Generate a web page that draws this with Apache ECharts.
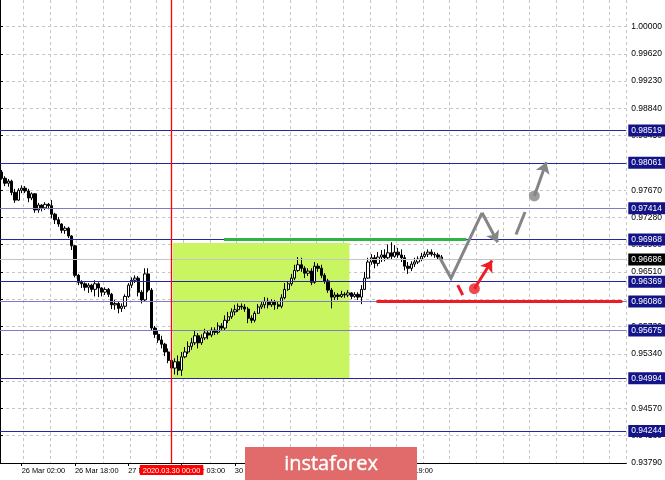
<!DOCTYPE html>
<html><head><meta charset="utf-8">
<script src="https://cdn.jsdelivr.net/npm/echarts@6/dist/echarts.min.js"></script>
<style>html,body{margin:0;padding:0;background:#fff}#c{width:665px;height:480px}</style>
</head><body><div id="c"></div>
<script>
// ---- candles (hourly), first bar at axisStartTime ----
const opens = [.9793,.9784,.9777,.9780,.9764,.9753,.9767,.9770,.9766,.9756,
.9762,.9739,.9746,.9742,.9747,.9745,.9733,.9725,.9719,.9710,
.9713,.9702,.9688,.9646,.9636,.9634,.9629,.9632,.9626,.9634,
.9628,.9622,.9626,.9619,.9604,.9606,.9599,.9602,.9616,.9632,
.9639,.9642,.9622,.9611,.9648,.9625,.9571,.9562,.9554,.9548,
.9537,.9525,.9514,.9523,.9511,.9530,.9537,.9545,.9550,.9560,
.9550,.9557,.9564,.9561,.9568,.9565,.9574,.9571,.9582,.9587,
.9594,.9597,.9602,.9601,.9598,.9585,.9582,.9592,.9601,.9604,
.9609,.9604,.9608,.9604,.9602,.9614,.9626,.9634,.9642,.9653,
.9661,.9656,.9649,.9652,.9636,.9659,.9656,.9646,.9638,.9625,
.9615,.9618,.9616,.9619,.9618,.9621,.9616,.9619,.9615,.9626,
.9642,.9665,.9671,.9663,.9672,.9675,.9671,.9678,.9673,.9679,
.9675,.9671,.9659,.9656,.9662,.9665,.9669,.9673,.9676,.9679,
.9676,.9675,.9672];
const closes = [.9784,.9777,.9780,.9764,.9753,.9767,.9770,.9766,.9756,.9762,
.9739,.9746,.9742,.9747,.9745,.9733,.9725,.9719,.9710,.9713,
.9702,.9688,.9646,.9636,.9634,.9629,.9632,.9626,.9634,.9628,
.9622,.9626,.9619,.9604,.9606,.9599,.9602,.9616,.9632,.9639,
.9642,.9622,.9611,.9648,.9625,.9571,.9562,.9554,.9548,.9537,
.9525,.9514,.9523,.9511,.9530,.9537,.9545,.9550,.9560,.9550,
.9557,.9564,.9561,.9568,.9565,.9574,.9571,.9582,.9587,.9594,
.9597,.9602,.9601,.9598,.9585,.9582,.9592,.9601,.9604,.9609,
.9604,.9608,.9604,.9602,.9614,.9626,.9634,.9642,.9653,.9661,
.9656,.9649,.9652,.9636,.9659,.9656,.9646,.9638,.9625,.9615,
.9618,.9616,.9619,.9618,.9621,.9616,.9619,.9615,.9626,.9642,
.9665,.9671,.9663,.9672,.9675,.9671,.9678,.9673,.9679,.9675,
.9671,.9659,.9656,.9662,.9665,.9669,.9673,.9676,.9679,.9676,
.9675,.9672,.96686];
const lows = [.9782,.9773,.9772,.9760,.9749,.9752,.9763,.9763,.9750,.9753,
.9735,.9735,.9737,.9739,.9740,.9727,.9719,.9715,.9706,.9705,
.9699,.9682,.9643,.9632,.9628,.9624,.9621,.9622,.9616,.9615,
.9616,.9618,.9615,.9598,.9597,.9592,.9594,.9598,.9614,.9628,
.9635,.9616,.9606,.9609,.9622,.9567,.9557,.9550,.9542,.9531,
.9521,.9508,.9505,.9504,.9503,.9528,.9534,.9540,.9547,.9542,
.9547,.9554,.9555,.9558,.9561,.9562,.9567,.9568,.9578,.9584,
.9589,.9594,.9597,.9594,.9578,.9578,.9579,.9591,.9598,.9599,
.9599,.9601,.9597,.9598,.9599,.9612,.9624,.9631,.9639,.9651,
.9651,.9642,.9645,.9632,.9634,.9651,.9642,.9634,.9621,.9599,
.9611,.9611,.9614,.9614,.9615,.9612,.9614,.9611,.9605,.9625,
.9641,.9661,.9656,.9659,.9665,.9666,.9668,.9669,.9671,.9671,
.9665,.9653,.9648,.9652,.9658,.9662,.9666,.9671,.9672,.9673,
.9671,.9669,.9665];
const highs = [.9796,.9787,.9783,.9782,.9769,.9770,.9774,.9773,.9769,.9764,
.9763,.9749,.9747,.9750,.9749,.9753,.9735,.9729,.9720,.9716,
.9715,.9703,.9689,.9648,.9639,.9636,.9635,.9634,.9639,.9636,
.9629,.9629,.9628,.9621,.9611,.9609,.9606,.9619,.9635,.9643,
.9646,.9645,.9625,.9656,.9656,.9628,.9574,.9567,.9560,.9550,
.9542,.9531,.9528,.9532,.9537,.9544,.9552,.9557,.9567,.9564,
.9562,.9570,.9568,.9572,.9572,.9579,.9578,.9589,.9594,.9599,
.9604,.9606,.9606,.9605,.9601,.9589,.9595,.9605,.9608,.9615,
.9614,.9612,.9611,.9608,.9619,.9635,.9638,.9648,.9661,.9672,
.9671,.9659,.9656,.9656,.9665,.9663,.9661,.9649,.9641,.9628,
.9622,.9621,.9624,.9622,.9625,.9622,.9622,.9622,.9632,.9651,
.9671,.9676,.9675,.9679,.9682,.9683,.9690,.9693,.9689,.9685,
.9683,.9675,.9665,.9666,.9671,.9673,.9678,.9680,.9683,.9683,
.9679,.9678,.9675];

// ---- horizontal levels ----
const levels = [0.98519, 0.98061, 0.97414, 0.96968, 0.96369, 0.96086, 0.95675, 0.94994, 0.94244];
const levelStrong = [true, true, false, true, true, false, false, true, true];
const lastPrice = 0.96686;

// ---- price axis ticks ----
const tickValues = [0.93790,0.94178,0.94566,0.94954,0.95343,0.95731,0.96119,0.96507,0.96895,0.97283,0.97671,0.98059,0.98448,0.98836,0.99224,0.99612,1.00000];
const tickLabels = ['0.93790','0.94180','0.94570','0.94960','0.95340','0.95730','0.96120','0.96510','0.96900','0.97280','0.97670','0.98060','0.98450','0.98840','0.99230','0.99620','1.00000'];
const yMin = 0.93790, yMax = 1.00377;

// ---- time axis ----
const axisStartTime = Date.UTC(2020, 2, 25, 20);
const barCount = 188;
const labelEvery = 16, labelOffset = 6, gridEvery = 8, gridOffset = 7;
const cursorTime = '30 Mar 00:00';
const cursorLabel = '2020.03.30 00:00';

// ---- annotations (x in bar units along the time axis) ----
const zoneX = [51.9, 104.9], zoneY = [0.9692, 0.9500];
const greenLineX = [67.2, 140.0], greenLineY = 0.96968;
const redLineX = [113.0, 186.8], redLineY = 0.96086;
const grayZigX = [131.9, 135.4, 144.7], grayZigY = [0.9672, 0.9642, 0.9735];
const grayArrow1X = [144.7, 149.4], grayArrow1Y = [0.9735, 0.9693];
const grayDashX = [154.9, 157.6], grayDashY = [0.9704, 0.9736];
const grayDotX = 160.4, grayDotY = 0.9759;
const grayArrow2X = [160.4, 164.0], grayArrow2Y = [0.9759, 0.9807];
const redDashX = [137.4, 138.9], redDashY = [0.9632, 0.9618];
const redDotX = 142.4, redDotY = 0.9627;
const redArrowX = [142.4, 147.7], redArrowY = [0.9627, 0.9667];

const months = ['Jan','Feb','Mar','Apr','May','Jun','Jul','Aug','Sep','Oct','Nov','Dec'];
const cats = [];
let t = axisStartTime;
while (cats.length < barCount) {
  const d = new Date(t), wd = d.getUTCDay(), h = d.getUTCHours();
  if (wd !== 0 && wd !== 6 && !(wd === 5 && h === 23))
    cats.push(d.getUTCDate() + ' ' + months[d.getUTCMonth()] + ' ' + String(h).padStart(2, '0') + ':00');
  t += 3600000;
}
const lastBar = opens.length - 1;
const candles = opens.map((o, i) => [o, closes[i], lows[i], highs[i]]);
const showLabel = (i) => i <= lastBar && i >= labelOffset && (i - labelOffset) % labelEvery === 0;
const cursorX = cats.indexOf(cursorTime) + 0.5;

const FONT = 'Liberation Sans';
const GRAY = '#858585', RED = '#ee1c24';
const pts = (xs, ys) => xs.map((x, i) => [x, ys[i]]);
const boxLabel = (text, bg) => ({show: true, position: 'end', distance: 2, formatter: text, backgroundColor: bg,
  color: '#fff', fontFamily: FONT, fontSize: 8.5, padding: [2, 3, 1, 3]});

const chart = echarts.init(document.getElementById('c'), null, {renderer: 'canvas'});
chart.setOption({
  animation: false,
  backgroundColor: '#ffffff',
  grid: {left: 0, right: 38, top: 0, bottom: 17, containLabel: false},
  xAxis: [{
    type: 'category', data: cats, boundaryGap: true,
    axisLine: {show: true, lineStyle: {color: '#000', width: 1}},
    axisTick: {show: true, length: 3, interval: showLabel, alignWithLabel: true, lineStyle: {color: '#000'}},
    axisLabel: {show: true, interval: showLabel, align: 'left', margin: 4, color: '#000', fontFamily: FONT, fontSize: 7.4},
    splitLine: {show: true, interval: (i) => i >= gridOffset && (i - gridOffset) % gridEvery === 0,
      lineStyle: {color: '#c6c6c6', type: [3, 3], width: 1}}
  }, {
    type: 'value', min: 0, max: barCount, show: false
  }],
  yAxis: {
    type: 'value', position: 'right', min: yMin, max: yMax, scale: true,
    axisLine: {show: true, lineStyle: {color: '#000', width: 1}},
    axisTick: {show: true, length: 3, inside: false, customValues: tickValues, lineStyle: {color: '#000'}},
    axisLabel: {show: true, customValues: tickValues, margin: 5, color: '#000', fontFamily: FONT, fontSize: 8.5,
      formatter: (v) => { const k = tickValues.findIndex(x => Math.abs(x - v) < 1e-6); return k >= 0 ? tickLabels[k] : ''; }},
    splitLine: {show: true, lineStyle: {color: '#c6c6c6', type: [3, 3], width: 1}}
  },
  graphic: [{
    type: 'group', left: 245, top: 447, zlevel: 2, z: 100,
    children: [
      {type: 'rect', zlevel: 2, shape: {x: 0, y: 0, width: 172, height: 33}, style: {fill: '#e16a6a'}},
      {type: 'text', zlevel: 2, x: 86, y: 17, style: {text: 'instaforex', fill: '#ffffff', stroke: '#ffffff', lineWidth: 0.4,
        font: '20px "Open Sans"', textAlign: 'center', textVerticalAlign: 'middle'}}
    ]
  }],
  series: [
    { // green zone
      type: 'line', xAxisIndex: 1, data: [], z: -1, silent: true,
      markArea: {silent: true, itemStyle: {color: '#c9f560', opacity: 1},
        data: [[{coord: [zoneX[0], zoneY[0]]}, {coord: [zoneX[1], zoneY[1]]}]]}
    },
    { // level lines
      type: 'line', xAxisIndex: 0, data: [], z: 3, silent: true,
      markLine: {
        silent: true, symbol: ['none', 'none'], precision: 5,
        data: levels.map((v, i) => ({
          yAxis: v,
          lineStyle: {color: levelStrong[i] ? '#26269e' : '#7c7cc4', width: 1, type: 'solid'},
          label: boxLabel(v.toFixed(5), '#14148a')
        })).concat([{
          yAxis: lastPrice,
          lineStyle: {color: '#c4c4c4', width: 1, type: 'solid'},
          label: boxLabel(lastPrice.toFixed(5), '#000')
        }])
      }
    },
    { // cursor line with its time box
      type: 'line', xAxisIndex: 1, yAxisIndex: 0, data: [], z: 5, silent: true,
      itemStyle: {color: '#ff0000'}, lineStyle: {color: '#ff0000'},
      markLine: {
        silent: true, symbol: ['none', 'none'],
        lineStyle: {color: '#ff0000', width: 1.3, opacity: 1, type: 'solid'},
        label: {show: true, position: 'start', distance: 2, formatter: cursorLabel, backgroundColor: '#ff0000',
          color: '#fff', fontFamily: FONT, fontSize: 7.4, padding: [2, 3, 1, 3]},
        data: [{xAxis: cursorX, lineStyle: {color: '#ff0000'}}]
      }
    },
    {
      type: 'candlestick', xAxisIndex: 0, data: candles, z: 4, barWidth: 2.8,
      itemStyle: {color: '#ffffff', color0: '#000000', borderColor: '#000000', borderColor0: '#000000', borderWidth: 1}
    },
    { // green & red horizontal segments
      type: 'lines', coordinateSystem: 'cartesian2d', xAxisIndex: 1, yAxisIndex: 0, z: 5, silent: true,
      symbol: ['none', 'none'],
      data: [
        {coords: [[greenLineX[0], greenLineY], [greenLineX[1], greenLineY]], lineStyle: {color: '#2db34a', width: 3}},
        {coords: [[redLineX[0], redLineY], [redLineX[1], redLineY]], lineStyle: {color: RED, width: 3}}
      ],
      lineStyle: {width: 3, opacity: 1}
    },
    { // gray zigzag body
      type: 'lines', coordinateSystem: 'cartesian2d', xAxisIndex: 1, yAxisIndex: 0, z: 6, silent: true, polyline: true,
      data: [{coords: pts(grayZigX, grayZigY)}, {coords: pts(grayDashX, grayDashY)}],
      lineStyle: {color: GRAY, width: 3, opacity: 1}
    },
    { // gray arrows
      type: 'lines', coordinateSystem: 'cartesian2d', xAxisIndex: 1, yAxisIndex: 0, z: 6, silent: true,
      symbol: ['none', 'arrow'], symbolSize: 11,
      data: [{coords: pts(grayArrow1X, grayArrow1Y)}, {coords: pts(grayArrow2X, grayArrow2Y)}],
      lineStyle: {color: GRAY, width: 3, opacity: 1}
    },
    { // red dash
      type: 'lines', coordinateSystem: 'cartesian2d', xAxisIndex: 1, yAxisIndex: 0, z: 6, silent: true,
      data: [{coords: pts(redDashX, redDashY)}],
      lineStyle: {color: RED, width: 3, opacity: 1}
    },
    { // red arrow
      type: 'lines', coordinateSystem: 'cartesian2d', xAxisIndex: 1, yAxisIndex: 0, z: 6, silent: true,
      symbol: ['none', 'arrow'], symbolSize: 11,
      data: [{coords: pts(redArrowX, redArrowY)}],
      lineStyle: {color: RED, width: 3, opacity: 1}
    },
    {
      type: 'scatter', xAxisIndex: 1, yAxisIndex: 0, z: 7, silent: true, symbolSize: 11,
      data: [{value: [grayDotX, grayDotY], itemStyle: {color: GRAY}}, {value: [redDotX, redDotY], itemStyle: {color: RED}}]
    }
  ]
});
</script></body></html>
